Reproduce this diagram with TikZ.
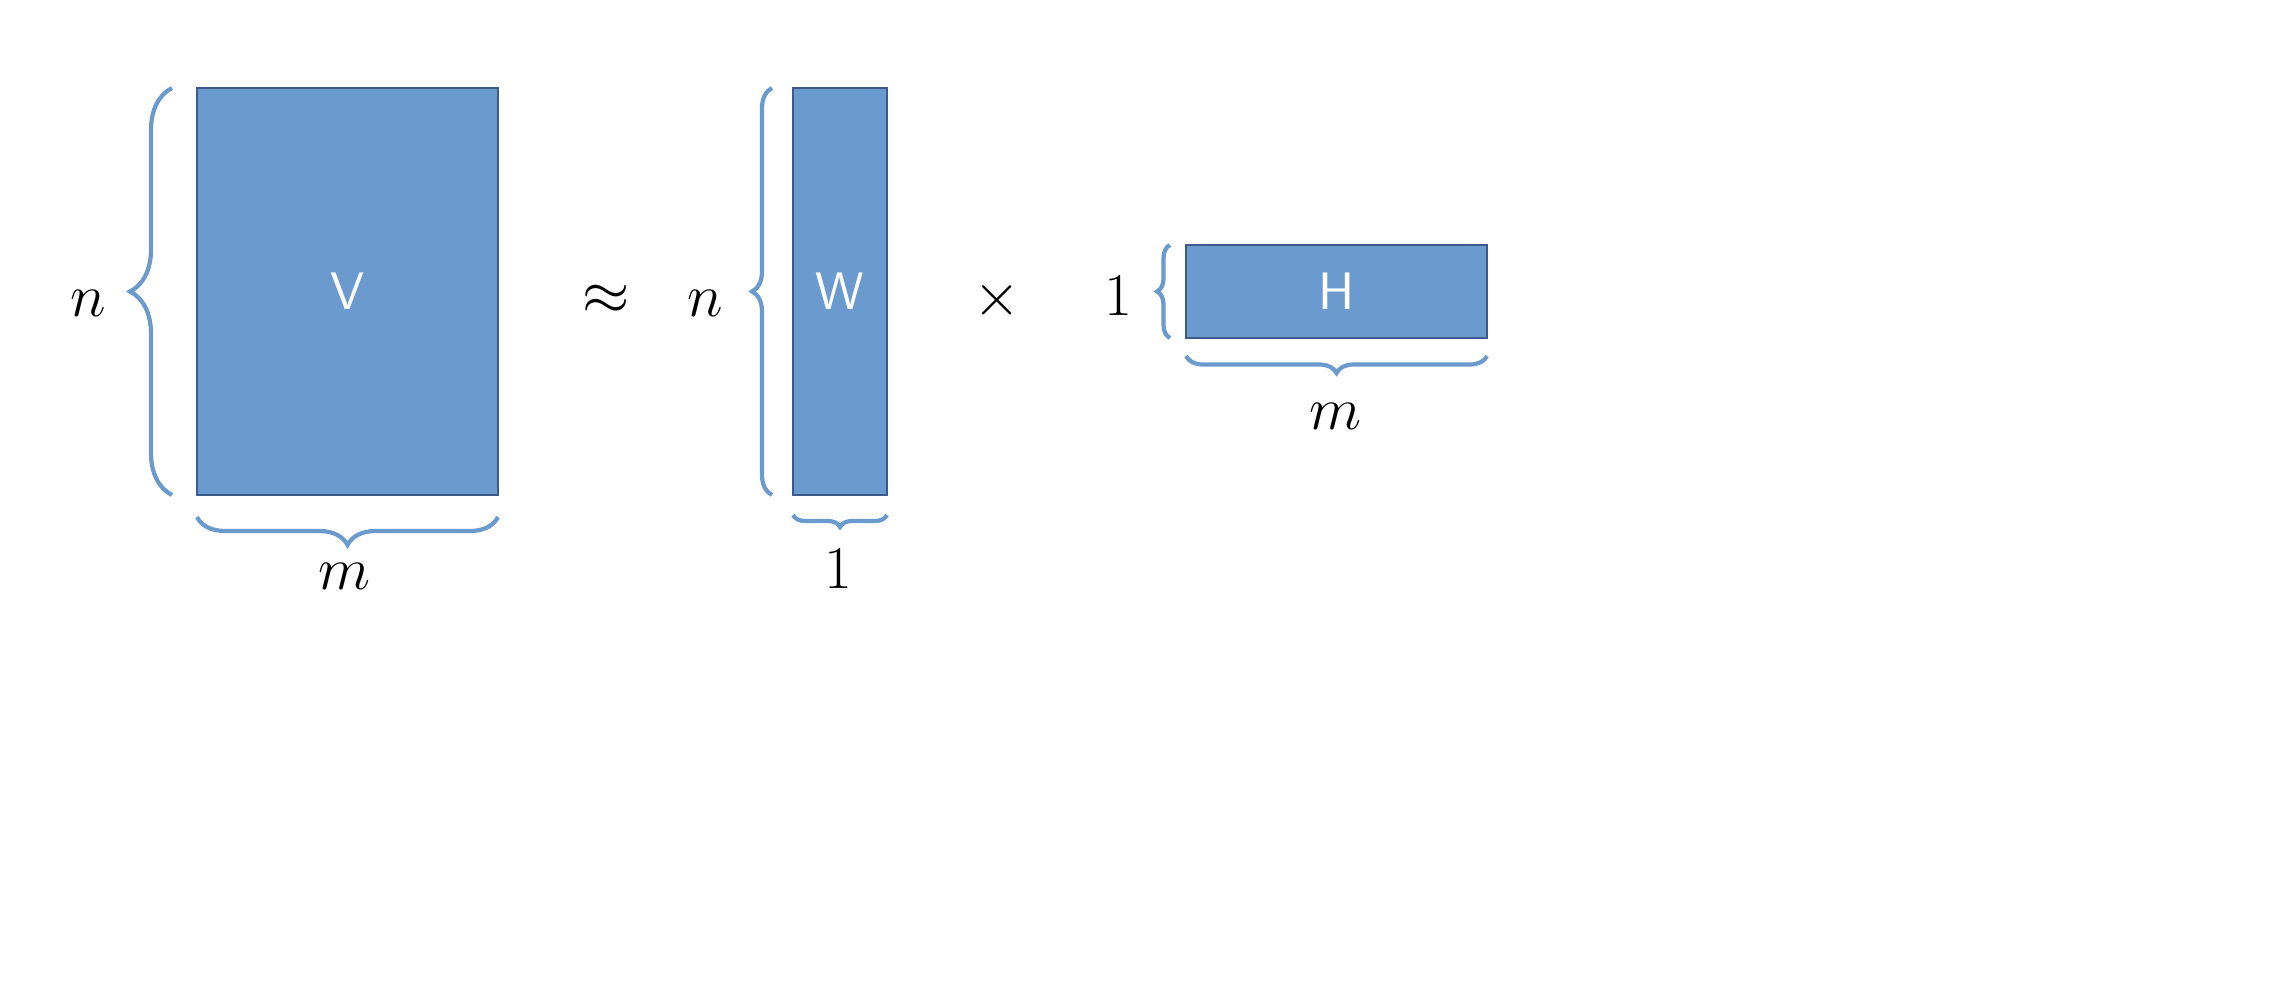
\documentclass[tikz,border=0pt]{standalone}
\usetikzlibrary{decorations.pathreplacing}
\definecolor{matblue}{RGB}{106,154,206}
\definecolor{matedge}{RGB}{60,90,140}
\tikzset{
  mat/.style={draw=matedge, line width=0.5pt, fill=matblue, text=white,
    font=\sffamily\fontsize{15}{18}\selectfont, inner sep=0pt},
  brc/.style={draw=matblue, line width=1.2pt, decorate,
    decoration={brace, amplitude=#1}},
  lbl/.style={font=\fontsize{16}{19}\selectfont},
}
\begin{document}
\begin{tikzpicture}
  \useasboundingbox (0,0) rectangle (22.7,10.06);
  % matrices
  \node[mat, minimum width=3.01cm, minimum height=4.07cm] (V) at (3.475,7.145) {V};
  \node[mat, minimum width=0.94cm, minimum height=4.07cm] (W) at (8.40,7.145) {W};
  \node[mat, minimum width=3.01cm, minimum height=0.93cm] (H) at (13.365,7.145) {H};
  % braces
  \draw[brc=0.42cm] (1.72,5.11) -- (1.72,9.18);
  \draw[brc=0.28cm] (4.98,4.89) -- (1.97,4.89);
  \draw[brc=0.20cm] (7.72,5.11) -- (7.72,9.18);
  \draw[brc=0.12cm] (8.87,4.91) -- (7.93,4.91);
  \draw[brc=0.13cm] (11.70,6.68) -- (11.70,7.61);
  \draw[brc=0.17cm] (14.87,6.50) -- (11.86,6.50);
  % labels
  \node[lbl] (nV) at (0.88,7.03) {$n$};
  \node[lbl] (mV) at (3.45,4.30) {$m$};
  \node[lbl] (approx) at (6.06,7.06) {$\approx$};
  \node[lbl] (nW) at (7.05,7.03) {$n$};
  \node[lbl] (oneW) at (8.38,4.37) {$1$};
  \node[lbl] (times) at (9.97,7.06) {$\times$};
  \node[lbl] (oneH) at (11.18,7.10) {$1$};
  \node[lbl] (mH) at (13.35,5.90) {$m$};
\end{tikzpicture}
\end{document}
